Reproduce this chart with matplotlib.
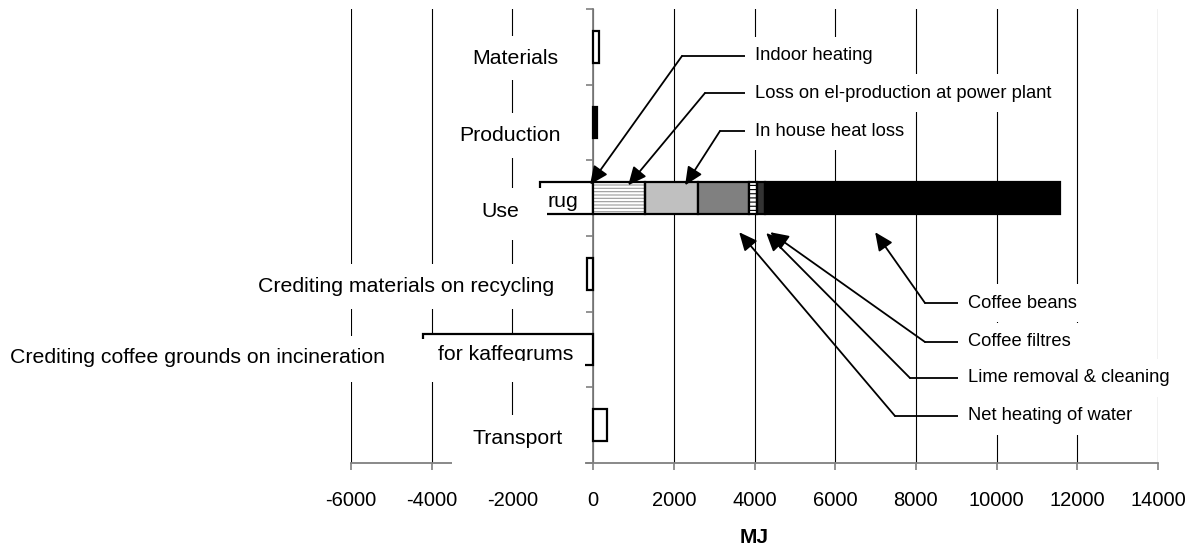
import matplotlib
matplotlib.use("Agg")
import matplotlib.pyplot as plt
import numpy as np
from matplotlib.patches import Rectangle
from matplotlib.transforms import IdentityTransform

plt.rcParams["font.family"] = ["Liberation Sans", "DejaVu Sans"]
plt.rcParams["hatch.linewidth"] = 0.8
plt.rcParams["axes.unicode_minus"] = False

# --- data -------------------------------------------------------------------
categories = [
    "Materials",
    "Production",
    "Use",
    "Crediting materials on recycling",
    "Crediting coffee grounds on incineration",
    "Transport",
]

# categories drawn as one bar (MJ)
single_cats = ["Materials", "Production", "Crediting materials on recycling",
               "Crediting coffee grounds on incineration", "Transport"]
single_mj = [150, 90, -150, -4220, 340]
single_fill = ["white", "black", "white", "white", "white"]

# "Use" is a stacked bar
use_parts = ["Indoor heating", "Loss on el-production at power plant",
             "In house heat loss", "Net heating of water",
             "Lime removal & cleaning", "Coffee filtres", "Coffee beans"]
use_mj = [-1320, 1290, 1310, 1270, 180, 220, 7310]
use_fill = ["white", "white", "#c0c0c0", "#808080", "white", "#333333", "black"]
use_hatch = [None, "-----", None, None, "----", None, None]
use_hatch_color = [None, "#9a9a9a", None, None, "black", None, None]

x_ticks = list(range(-6000, 14001, 2000))

# --- layout ------------------------------------------------------------------
fig = plt.figure(figsize=(12, 5.54), dpi=100)
ax = fig.add_axes([351 / 1200, 1 - 463 / 554, 807 / 1200, 454 / 554])
ax.set_xlim(-6000, 14000)
ax.set_ylim(5.5, -0.5)

ax.set_xticks(x_ticks)
ax.xaxis.grid(True, color="black", linewidth=0.8)
ax.set_axisbelow(True)
ax.set_yticks(np.arange(-0.5, 6, 1))
ax.set_yticklabels([])

for s in ["top", "right"]:
    ax.spines[s].set_visible(False)
ax.spines["left"].set_position(("data", 0))
for s in ["left", "bottom"]:
    ax.spines[s].set_color("#808080")
    ax.spines[s].set_linewidth(1.3)
ax.tick_params(axis="y", length=5, color="#808080", width=1.2)
ax.tick_params(axis="x", length=5, color="#808080", width=1.2, pad=15,
               labelsize=14.5)
ax.set_xlabel("MJ", fontsize=15, fontweight="bold", labelpad=13)

bar_h = 0.42
edge_lw = 1.6

# single bars
for cat, val, fc in zip(single_cats, single_mj, single_fill):
    y = categories.index(cat)
    ax.barh(y, val, height=bar_h, color=fc, edgecolor="black",
            linewidth=edge_lw, zorder=3)

# stacked "Use" bar
y_use = categories.index("Use")
pos_left, neg_left = 0.0, 0.0
use_left = []
for val in use_mj:
    if val >= 0:
        use_left.append(pos_left)
        pos_left += val
    else:
        use_left.append(neg_left)
        neg_left += val
for val, left, fc, h, hc in zip(use_mj, use_left, use_fill, use_hatch, use_hatch_color):
    if h:
        ax.barh(y_use, val, left=left, height=bar_h, color=fc, edgecolor=hc,
                hatch=h, linewidth=0, zorder=3)
        ax.barh(y_use, val, left=left, height=bar_h, fill=False,
                edgecolor="black", linewidth=edge_lw, zorder=3.5)
    else:
        ax.barh(y_use, val, left=left, height=bar_h, color=fc,
                edgecolor="black", linewidth=edge_lw, zorder=3)

# white label frames of the source chart (x, y, w, h in image pixels, top-left origin)
frames = [(0, 339, 585, 43), (445, 188, 102, 52), (452, 415, 133, 57)]
for fx, fy, fw, fh in frames:
    ax.add_patch(Rectangle((fx, 554 - fy - fh), fw, fh,
                           transform=IdentityTransform(), facecolor="white",
                           edgecolor="none", zorder=5, clip_on=False))

# category labels (white boxes, placed inside the plot like the original)
label_x = [-1930, -2060, -2300, -4630, -14450, -1880]
label_ha = ["center", "center", "center", "center", "left", "center"]
label_dy = [0.15, 0.17, 0.17, 0.17, 0.11, 0.17]
box = dict(boxstyle="square,pad=0.6", facecolor="white", edgecolor="none")
for i, (cat, lx, ha, dy) in enumerate(zip(categories, label_x, label_ha, label_dy)):
    ax.text(lx, i + dy, cat, ha=ha, va="center", fontsize=15.3, bbox=box,
            zorder=6, clip_on=False)

ax.text(-3840, 4.06, "for kaffegrums", ha="left", va="center", fontsize=15.3,
        zorder=6.5)
ax.add_patch(Rectangle((430, 554 - 382), 155, 21, transform=IdentityTransform(),
                       facecolor="white", edgecolor="none", zorder=7,
                       clip_on=False))
ax.text(-1140, 2.04, "rug", ha="left", va="center", fontsize=15.3, zorder=7)

# callouts: (label, tip in data, elbow in figure px, text in figure px)
callouts = [
    ("Indoor heating", (-75, 1.82), (682, 498), (755, 498)),
    ("Loss on el-production at power plant", (870, 1.83), (705, 461), (755, 461)),
    ("In house heat loss", (2280, 1.83), (720, 423), (755, 423)),
    ("Coffee beans", (6990, 2.45), (925, 251), (968, 251)),
    ("Coffee filtres", (4390, 2.45), (925, 212), (968, 212)),
    ("Lime removal & cleaning", (4290, 2.46), (910, 176), (968, 176)),
    ("Net heating of water", (3620, 2.45), (895, 138), (968, 138)),
]
tbox = dict(boxstyle="square,pad=0.55", facecolor="white", edgecolor="none")
for text, tip, elbow, tpos in callouts:
    ax.annotate(text, xy=elbow, xycoords="figure pixels", xytext=tpos,
                textcoords="figure pixels", ha="left", va="center",
                fontsize=13.2, bbox=tbox, zorder=8,
                arrowprops=dict(arrowstyle="-", color="black", lw=1.3,
                                shrinkA=0, shrinkB=0))
    ax.annotate("", xy=tip, xycoords="data", xytext=elbow,
                textcoords="figure pixels", zorder=8,
                arrowprops=dict(arrowstyle="-|>,head_length=0.55,head_width=0.25",
                                mutation_scale=20, color="black", lw=1.3,
                                shrinkA=0, shrinkB=0))

fig.savefig("out.png", dpi=100)
